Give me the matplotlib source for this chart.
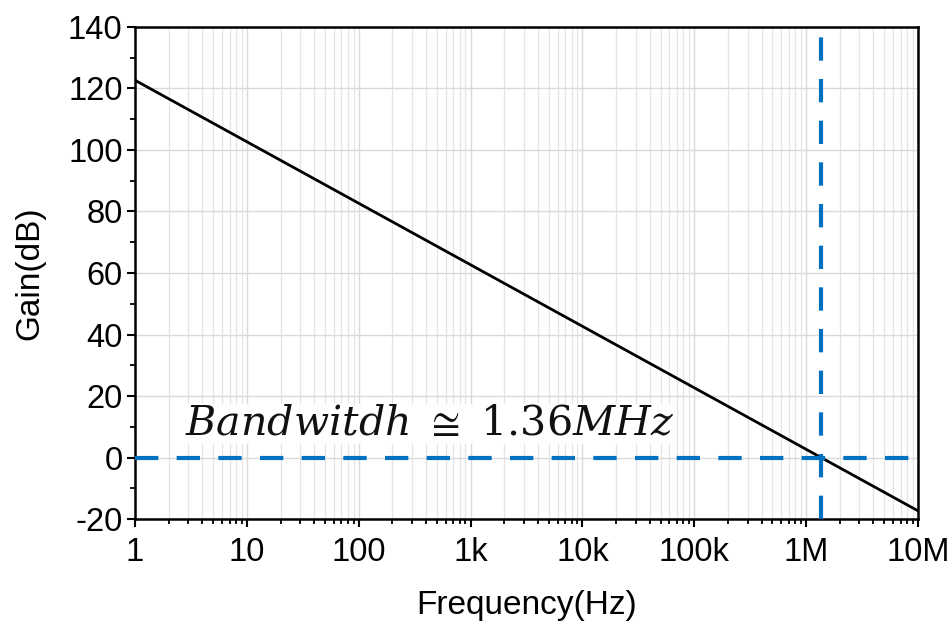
import numpy as np
import matplotlib.pyplot as plt
from matplotlib.ticker import LogLocator, FixedLocator, MultipleLocator, FuncFormatter

# open-loop gain, single pole roll-off of -20 dB/decade
freq_hz = [1, 1e7]
gain_db = [122.67, -17.33]
bandwidth_hz = 1.36e6

xtick_vals = [1, 10, 100, 1e3, 1e4, 1e5, 1e6, 1e7]
xtick_labels = ["1", "10", "100", "1k", "10k", "100k", "1M", "10M"]
ytick_vals = [-20, 0, 20, 40, 60, 80, 100, 120, 140]

plt.rcParams['font.family'] = ['Liberation Sans', 'DejaVu Sans']
plt.rcParams['mathtext.fontset'] = 'dejavuserif'
plt.rcParams['axes.unicode_minus'] = False

fig = plt.figure(figsize=(9.49, 6.26), dpi=100)
ax = fig.add_axes([0.1423, 0.1709, 0.8250, 0.7860])

blue = '#0070c0'
ax.plot(freq_hz, gain_db, color='black', linewidth=2.0, zorder=3)
ax.axhline(0, color=blue, linewidth=3.0, dashes=(5.6, 4.4), zorder=4)
ax.axvline(bandwidth_hz, color=blue, linewidth=3.0, dashes=(5.6, 4.4), zorder=4)

ax.set_xscale('log')
ax.set_xlim(1, 1e7)
ax.set_ylim(-20, 140)
ax.xaxis.set_major_locator(FixedLocator(xtick_vals))
ax.set_xticklabels(xtick_labels)
ax.xaxis.set_minor_locator(LogLocator(base=10, subs=np.arange(2, 10), numticks=20))
ax.xaxis.set_minor_formatter(FuncFormatter(lambda v, p: ""))
ax.set_yticks(ytick_vals)
ax.yaxis.set_minor_locator(MultipleLocator(10))

ax.grid(which='major', color='#dadada', linewidth=1.0)
ax.grid(which='minor', axis='x', color='#e4e4e4', linewidth=0.9)
ax.set_axisbelow(True)

for s in ax.spines.values():
    s.set_linewidth(1.8)
ax.tick_params(which='major', direction='out', length=6, width=1.5, labelsize=23.5)
ax.tick_params(axis='x', which='major', pad=7)
ax.tick_params(axis='y', which='major', pad=3)
ax.tick_params(which='minor', direction='out', length=3.5, width=1.3)

ax.set_xlabel('Frequency(Hz)', fontsize=24, labelpad=16)
ax.set_ylabel('Gain(dB)', fontsize=24, labelpad=16)

ax.text(2.8, 7.3, r'$Bandwitdh\ \cong\ 1.36MHz$', fontsize=29.6, color='#111111',
        ha='left', va='baseline', zorder=5,
        bbox=dict(facecolor='white', edgecolor='none', pad=1))

fig.savefig('out.png', dpi=100)
